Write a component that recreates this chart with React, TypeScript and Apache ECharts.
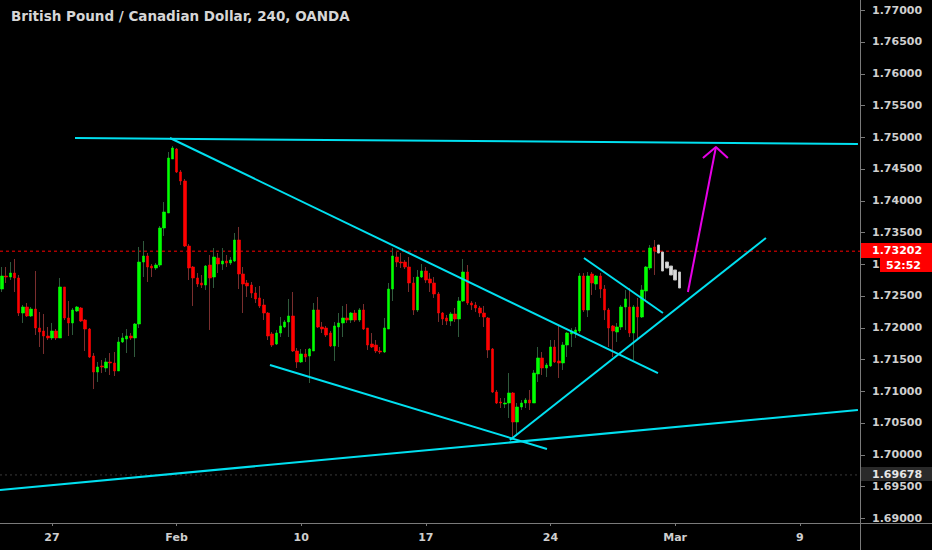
import React, { useEffect, useRef } from "react";
import * as echarts from "echarts";

const chartTitle = "British Pound / Canadian Dollar, 240, OANDA";

// [open, close, low, high] per 4H bar
const candles: number[][] = [
  [1.72606, 1.72811, 1.72559, 1.72953],
  [1.72811, 1.72795, 1.72701, 1.72953],
  [1.72795, 1.72858, 1.72748, 1.73031],
  [1.72858, 1.7278, 1.72559, 1.73079],
  [1.7278, 1.72228, 1.72181, 1.72827],
  [1.72228, 1.72323, 1.72071, 1.72354],
  [1.72323, 1.72181, 1.72165, 1.72386],
  [1.72181, 1.72291, 1.72165, 1.72323],
  [1.72291, 1.71992, 1.71882, 1.7289],
  [1.71992, 1.71929, 1.71693, 1.72244],
  [1.71945, 1.71866, 1.71583, 1.72213],
  [1.71866, 1.71835, 1.71803, 1.72008],
  [1.71835, 1.71945, 1.71803, 1.72071],
  [1.71945, 1.71835, 1.71803, 1.71976],
  [1.71835, 1.72638, 1.71835, 1.7278],
  [1.72638, 1.7215, 1.72118, 1.72638],
  [1.7215, 1.72071, 1.71866, 1.72417],
  [1.72071, 1.72276, 1.71882, 1.72307],
  [1.7226, 1.72323, 1.72244, 1.72339],
  [1.72307, 1.72102, 1.72087, 1.72323],
  [1.72118, 1.71976, 1.7163, 1.72134],
  [1.71976, 1.71535, 1.7152, 1.71992],
  [1.71551, 1.71299, 1.71031, 1.71598],
  [1.71299, 1.71378, 1.71142, 1.71457],
  [1.71394, 1.71378, 1.71283, 1.71488],
  [1.71362, 1.71457, 1.71299, 1.7152],
  [1.71457, 1.71441, 1.71252, 1.71598],
  [1.71441, 1.71315, 1.71236, 1.71614],
  [1.71315, 1.71772, 1.71315, 1.7185],
  [1.71772, 1.71835, 1.71756, 1.71913],
  [1.71819, 1.71866, 1.71598, 1.71976],
  [1.71866, 1.71835, 1.71803, 1.71913],
  [1.71835, 1.72055, 1.71535, 1.72071],
  [1.72055, 1.73031, 1.71992, 1.73268],
  [1.73031, 1.73126, 1.72795, 1.73362],
  [1.73126, 1.72953, 1.72717, 1.73173],
  [1.72968, 1.72937, 1.72795, 1.73],
  [1.72937, 1.72984, 1.72906, 1.73016],
  [1.72984, 1.73567, 1.72953, 1.73598],
  [1.73567, 1.73819, 1.73441, 1.73976],
  [1.73803, 1.74669, 1.73803, 1.74764],
  [1.74654, 1.74827, 1.74654, 1.74858],
  [1.74811, 1.74449, 1.74433, 1.74827],
  [1.74449, 1.74307, 1.74244, 1.7448],
  [1.74307, 1.73283, 1.73268, 1.74339],
  [1.73283, 1.72937, 1.72748, 1.73315],
  [1.72953, 1.7278, 1.72339, 1.72968],
  [1.7278, 1.72685, 1.72638, 1.72858],
  [1.72701, 1.72669, 1.72622, 1.72827],
  [1.72669, 1.72968, 1.72591, 1.72984],
  [1.72984, 1.7278, 1.71961, 1.73142],
  [1.72795, 1.7311, 1.72622, 1.73252],
  [1.73094, 1.73, 1.72858, 1.73173],
  [1.73, 1.73047, 1.72906, 1.73252],
  [1.73047, 1.73016, 1.72953, 1.73142],
  [1.73016, 1.73063, 1.72984, 1.7311],
  [1.73047, 1.73378, 1.73031, 1.73488],
  [1.73378, 1.72843, 1.72606, 1.73583],
  [1.72843, 1.72685, 1.72228, 1.72953],
  [1.72701, 1.72654, 1.7248, 1.72748],
  [1.72669, 1.72543, 1.72465, 1.72717],
  [1.72543, 1.72449, 1.72386, 1.72638],
  [1.72465, 1.72339, 1.72307, 1.72654],
  [1.72354, 1.72228, 1.72118, 1.72449],
  [1.72228, 1.71866, 1.71803, 1.72244],
  [1.71898, 1.71724, 1.71693, 1.71929],
  [1.7174, 1.71913, 1.71724, 1.71961],
  [1.71913, 1.72024, 1.7185, 1.72165],
  [1.72008, 1.72087, 1.71992, 1.72118],
  [1.72087, 1.72181, 1.7185, 1.72449],
  [1.72181, 1.7163, 1.71614, 1.72559],
  [1.7163, 1.71457, 1.71362, 1.71677],
  [1.71457, 1.71583, 1.71441, 1.71661],
  [1.71583, 1.71535, 1.71457, 1.71661],
  [1.71551, 1.71661, 1.71126, 1.71677],
  [1.7163, 1.72276, 1.7163, 1.72386],
  [1.72276, 1.72008, 1.71992, 1.7248],
  [1.72008, 1.71976, 1.71913, 1.72087],
  [1.71992, 1.71882, 1.7185, 1.72024],
  [1.71913, 1.71709, 1.71693, 1.71945],
  [1.71709, 1.72024, 1.71472, 1.72087],
  [1.72008, 1.72071, 1.71693, 1.72228],
  [1.72071, 1.7215, 1.7185, 1.72339],
  [1.7215, 1.72118, 1.72071, 1.7237],
  [1.72118, 1.72228, 1.72071, 1.72244],
  [1.72228, 1.72118, 1.72087, 1.72276],
  [1.72118, 1.72276, 1.72087, 1.72307],
  [1.72276, 1.71976, 1.71961, 1.7237],
  [1.71992, 1.71724, 1.71646, 1.71992],
  [1.7174, 1.71693, 1.71677, 1.71913],
  [1.71724, 1.7163, 1.71598, 1.71803],
  [1.7163, 1.71614, 1.71583, 1.71693],
  [1.71614, 1.71992, 1.71598, 1.7215],
  [1.71976, 1.72606, 1.71976, 1.72701],
  [1.72606, 1.73126, 1.72417, 1.73252],
  [1.7311, 1.73031, 1.72953, 1.73189],
  [1.73031, 1.73016, 1.72937, 1.73173],
  [1.73031, 1.72953, 1.72921, 1.73063],
  [1.72953, 1.72701, 1.72559, 1.7311],
  [1.72701, 1.72276, 1.72197, 1.72795],
  [1.72276, 1.72795, 1.72244, 1.72906],
  [1.72795, 1.7289, 1.7278, 1.73],
  [1.7289, 1.72748, 1.72701, 1.72953],
  [1.72764, 1.72701, 1.72559, 1.72858],
  [1.72701, 1.72528, 1.72465, 1.72795],
  [1.72528, 1.72228, 1.72087, 1.72559],
  [1.72228, 1.72134, 1.72039, 1.72244],
  [1.7215, 1.72102, 1.72039, 1.72197],
  [1.72102, 1.72213, 1.72024, 1.72244],
  [1.72213, 1.72134, 1.72087, 1.72307],
  [1.72134, 1.72417, 1.7185, 1.7248],
  [1.72417, 1.72874, 1.72402, 1.73079],
  [1.72874, 1.72386, 1.72354, 1.72984],
  [1.72386, 1.72354, 1.72276, 1.72417],
  [1.72354, 1.72307, 1.72244, 1.72402],
  [1.72307, 1.72228, 1.72165, 1.72339],
  [1.72228, 1.72165, 1.72008, 1.72339],
  [1.7215, 1.71646, 1.7152, 1.72165],
  [1.71661, 1.70984, 1.70969, 1.71677],
  [1.70984, 1.70811, 1.70795, 1.71016],
  [1.70827, 1.70811, 1.70732, 1.7089],
  [1.70795, 1.70811, 1.70732, 1.7089],
  [1.70811, 1.70969, 1.70575, 1.71283],
  [1.70969, 1.70512, 1.70228, 1.70984],
  [1.70512, 1.70748, 1.70291, 1.70811],
  [1.70748, 1.70811, 1.70701, 1.70858],
  [1.70811, 1.70858, 1.70732, 1.7089],
  [1.70858, 1.70811, 1.70701, 1.71016],
  [1.70811, 1.71283, 1.70811, 1.71331],
  [1.71268, 1.7152, 1.71142, 1.71693],
  [1.7152, 1.71362, 1.71252, 1.71614],
  [1.71362, 1.71409, 1.7122, 1.71441],
  [1.71394, 1.71693, 1.71378, 1.71803],
  [1.71693, 1.71457, 1.71441, 1.71803],
  [1.71472, 1.71441, 1.71205, 1.72024],
  [1.71441, 1.71724, 1.71331, 1.71772],
  [1.71724, 1.71913, 1.71535, 1.71929],
  [1.71898, 1.71945, 1.71693, 1.71992],
  [1.71913, 1.71961, 1.71835, 1.72008],
  [1.71945, 1.72811, 1.71913, 1.72858],
  [1.72811, 1.72276, 1.72244, 1.72858],
  [1.72276, 1.72811, 1.72165, 1.72874],
  [1.72843, 1.72701, 1.72512, 1.72874],
  [1.72685, 1.72811, 1.72591, 1.72827],
  [1.72811, 1.72606, 1.72465, 1.72858],
  [1.72606, 1.72276, 1.72118, 1.72669],
  [1.72276, 1.71992, 1.71693, 1.72307],
  [1.72024, 1.71945, 1.71535, 1.72039],
  [1.71929, 1.72008, 1.71772, 1.72071],
  [1.72008, 1.72323, 1.71961, 1.72354],
  [1.72323, 1.72449, 1.71961, 1.72591],
  [1.72323, 1.71913, 1.7185, 1.72622],
  [1.71913, 1.72323, 1.71488, 1.72354],
  [1.72323, 1.72165, 1.71803, 1.72465],
  [1.72165, 1.72591, 1.7215, 1.72669],
  [1.72575, 1.72953, 1.72402, 1.72968],
  [1.72937, 1.73252, 1.72906, 1.73299],
  [1.73268, 1.73202, 1.72827, 1.73378],
];

// projected bars (drawn in light grey after the last real bar)
const projection: number[][] = [
  [1.73299, 1.73173, 1.73173, 1.73299],
  [1.73189, 1.7289, 1.7289, 1.73189],
  [1.73031, 1.72937, 1.72937, 1.73031],
  [1.72968, 1.72827, 1.72827, 1.72968],
  [1.72906, 1.72748, 1.72748, 1.72906],
  [1.72874, 1.72622, 1.72622, 1.72874],
];

const barCount = 207;
const xTickIndex = [12, 42, 72, 102, 132, 162, 192];
const xTickLabels = ["27", "Feb", "10", "17", "24", "Mar", "9"];
const yTicks = [
  1.69, 1.695, 1.7, 1.705, 1.71, 1.715, 1.72, 1.725, 1.73, 1.735, 1.74, 1.745,
  1.75, 1.755, 1.76, 1.765, 1.77,
];
const yMin = 1.689213;
const yMax = 1.771575;

const lastPrice = 1.73202;
const countdown = "52:52";
const markerPrice = 1.69678;

// trend lines in [bar index, price]
const trendLines: number[][][] = [
  [[17.55, 1.74984], [206.0, 1.7489]],
  [[40.41, 1.74984], [157.87, 1.71283]],
  [[64.48, 1.71409], [131.15, 1.70087]],
  [[-0.5, 1.69441], [206.0, 1.70701]],
  [[122.24, 1.70228], [183.86, 1.7341]],
  [[140.05, 1.73094], [159.07, 1.72228]],
];
const arrowShaft: number[][] = [[165.08, 1.72559], [171.82, 1.74843]];
const arrowHead: number[][] = [[168.69, 1.74669], [171.82, 1.74843], [174.7, 1.74669]];

const FONT = "DejaVu Sans";
const CYAN = "#00e0f0";
const MAGENTA = "#e600e6";
const AXIS = "#7a7a7a";

export default function App() {
  const ref = useRef<HTMLDivElement>(null);

  useEffect(() => {
    if (!ref.current) return;
    const chart = echarts.init(ref.current, null, { renderer: "svg" });
    const categories = Array.from({ length: barCount }, (_, i) => String(i));
    const bodies = candles.map(([o, c]) => [o, c, Math.min(o, c), Math.max(o, c)]);
    const projData: any[] = candles.map(() => "-").concat(projection as any);
    const isTick = (i: number) => xTickIndex.indexOf(i) >= 0;

    const lineSeries = trendLines.map((pts) => ({
      type: "line",
      xAxisIndex: 1,
      yAxisIndex: 0,
      data: pts,
      symbol: "none",
      silent: true,
      z: 5,
      lineStyle: { color: CYAN, width: 2 },
    }));

    chart.setOption({
      animation: false,
      backgroundColor: "#000000",
      grid: { left: 0, right: 72, top: 0, bottom: 27, containLabel: false },
      xAxis: [
        {
          type: "category",
          data: categories,
          boundaryGap: true,
          axisLine: { show: false },
          axisTick: {
            show: true,
            alignWithLabel: true,
            interval: (i: number) => isTick(i),
            length: 3,
            lineStyle: { color: AXIS },
          },
          axisLabel: {
            interval: (i: number) => isTick(i),
            formatter: (_v: string, i: number) => {
              const k = xTickIndex.indexOf(i);
              return k >= 0 ? xTickLabels[k] : "";
            },
            color: "#cfcfcf",
            fontFamily: FONT,
            fontSize: 11,
            fontWeight: "bold",
            margin: 9,
          },
          splitLine: { show: false },
        },
        { type: "value", min: -0.5, max: barCount - 0.5, show: false },
      ],
      yAxis: {
        type: "value",
        position: "right",
        min: yMin,
        max: yMax,
        axisLine: { show: false },
        axisTick: { show: false },
        axisLabel: {
          customValues: yTicks,
          formatter: (v: number) => v.toFixed(5),
          color: "#cfcfcf",
          fontFamily: FONT,
          fontSize: 11,
          fontWeight: "bold",
          margin: 12,
        },
        splitLine: { show: false },
      },
      series: [
        {
          type: "candlestick",
          data: candles,
          barWidth: 1,
          silent: true,
          z: 3,
          itemStyle: {
            color: "#2f5a3c",
            color0: "#7a2e2e",
            borderColor: "#2f5a3c",
            borderColor0: "#7a2e2e",
            borderWidth: 1,
          },
        },
        {
          type: "candlestick",
          data: bodies,
          barWidth: 3,
          silent: true,
          z: 4,
          itemStyle: {
            color: "#00ff00",
            color0: "#ff0000",
            borderColor: "#00ff00",
            borderColor0: "#ff0000",
            borderWidth: 0.6,
          },
        },
        {
          type: "candlestick",
          data: projData,
          barWidth: 3,
          silent: true,
          z: 4,
          itemStyle: {
            color: "#dcdcdc",
            color0: "#dcdcdc",
            borderColor: "#bdbdbd",
            borderColor0: "#bdbdbd",
            borderWidth: 1,
          },
        },
        {
          type: "line",
          xAxisIndex: 1,
          data: [[-0.5, lastPrice], [barCount - 0.5, lastPrice]],
          symbol: "none",
          silent: true,
          z: 2,
          lineStyle: { color: "#ff0000", width: 1, type: [3, 3] },
        },
        {
          type: "line",
          xAxisIndex: 1,
          data: [[-0.5, markerPrice], [barCount - 0.5, markerPrice]],
          symbol: "none",
          silent: true,
          z: 2,
          lineStyle: { color: "#3a3a3a", width: 1, type: [2, 3] },
        },
        ...lineSeries,
        {
          type: "line",
          xAxisIndex: 1,
          data: arrowShaft,
          symbol: "none",
          silent: true,
          z: 6,
          lineStyle: { color: MAGENTA, width: 2 },
        },
        {
          type: "line",
          xAxisIndex: 1,
          data: arrowHead,
          symbol: "none",
          silent: true,
          z: 6,
          lineStyle: { color: MAGENTA, width: 2 },
        },
      ],
    });

    const toY = (p: number) => chart.convertToPixel({ yAxisIndex: 0 }, p) as number;
    const yLast = Math.round(toY(lastPrice));
    const yMark = Math.round(toY(markerPrice));

    const tickMarks = yTicks.map((t) => {
      const y = Math.round(toY(t)) + 0.5;
      return {
        type: "line",
        z: 50,
        shape: { x1: 861, y1: y, x2: 865, y2: y },
        style: { stroke: AXIS, lineWidth: 1 },
      };
    });

    chart.setOption({
      graphic: [
        {
          type: "line",
          z: 50,
          shape: { x1: 0, y1: 523.5, x2: 932, y2: 523.5 },
          style: { stroke: AXIS, lineWidth: 1 },
        },
        {
          type: "line",
          z: 50,
          shape: { x1: 860.5, y1: 0, x2: 860.5, y2: 550 },
          style: { stroke: AXIS, lineWidth: 1 },
        },
        ...tickMarks,
        {
          type: "text",
          z: 60,
          x: 11,
          y: 16,
          style: {
            text: chartTitle,
            fill: "#d6d6d6",
            font: `bold 13.5px "${FONT}"`,
            textVerticalAlign: "middle",
          },
        },
        {
          type: "rect",
          z: 60,
          shape: { x: 861, y: yLast - 8, width: 71, height: 15 },
          style: { fill: "#ff0000" },
        },
        {
          type: "text",
          z: 61,
          x: 872,
          y: yLast - 0.5,
          style: {
            text: lastPrice.toFixed(5),
            fill: "#ffffff",
            font: `bold 11px "${FONT}"`,
            textVerticalAlign: "middle",
          },
        },
        {
          type: "rect",
          z: 60,
          shape: { x: 880, y: yLast + 7, width: 52, height: 14 },
          style: { fill: "#ff0000" },
        },
        {
          type: "text",
          z: 61,
          x: 886,
          y: yLast + 14,
          style: {
            text: countdown,
            fill: "#ffffff",
            font: `bold 11px "${FONT}"`,
            textVerticalAlign: "middle",
          },
        },
        {
          type: "rect",
          z: 60,
          shape: { x: 861, y: yMark - 8, width: 71, height: 14 },
          style: { fill: "#2a2a2a" },
        },
        {
          type: "text",
          z: 61,
          x: 872,
          y: yMark - 1,
          style: {
            text: markerPrice.toFixed(5),
            fill: "#e6e6e6",
            font: `bold 11px "${FONT}"`,
            textVerticalAlign: "middle",
          },
        },
      ],
    });

    return () => chart.dispose();
  }, []);

  return (
    <div
      ref={ref}
      style={{ position: "fixed", left: 0, top: 0, width: 932, height: 550 }}
    />
  );
}
